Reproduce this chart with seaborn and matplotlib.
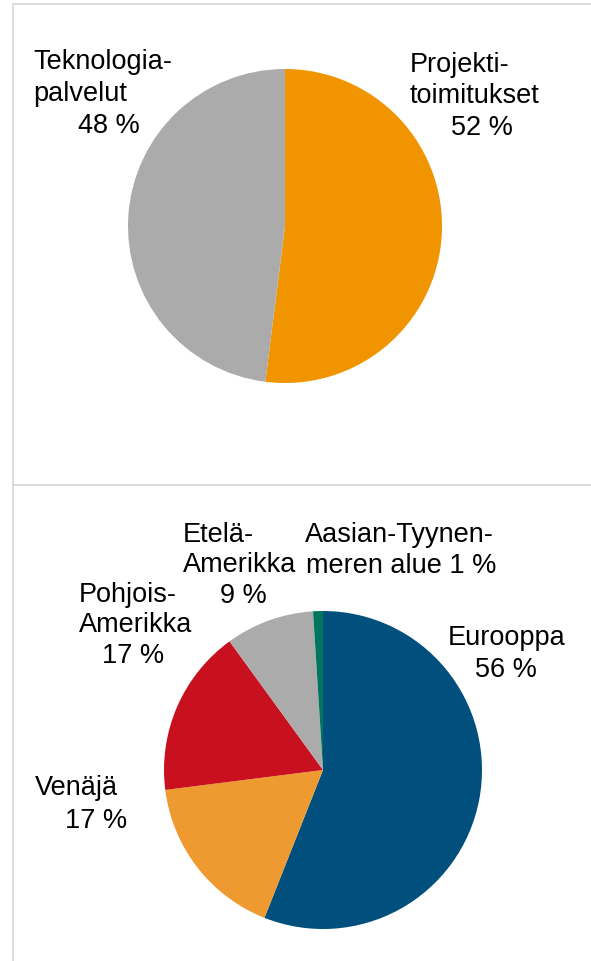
import matplotlib.pyplot as plt
import seaborn as sns
from matplotlib.lines import Line2D

# data
top_labels = ['Projekti-\ntoimitukset', 'Teknologia-\npalvelut']
top_values = [52, 48]
top_colors = ['#F09400', '#ABABAB']

bottom_labels = ['Eurooppa', 'Venäjä', 'Pohjois-\nAmerikka', 'Etelä-\nAmerikka', 'Aasian-Tyynen-\nmeren alue']
bottom_values = [56, 17, 17, 9, 1]
bottom_colors = ['#004F7D', '#EF9A30', '#C8101E', '#ABABAB', '#00765E']

sns.set_theme(style='white')
plt.rcParams['font.family'] = ['Liberation Sans', 'DejaVu Sans']

W, H = 591, 962
fig = plt.figure(figsize=(W / 100, H / 100), dpi=100)
FS = 19.5


def panel(y0, y1, cx, cy, r):
    # axes covering the panel, data units = pie radius
    ax = fig.add_axes([0, 1 - y1 / H, 1, (y1 - y0) / H])
    return ax


def limits(ax, y0, y1, cx, cy, r):
    ax.set_xlim((0 - cx) / r, (W - cx) / r)
    ax.set_ylim((cy - y1) / r, (cy - y0) / r)
    ax.set_axis_off()


def label(ax, c, x, y, s):
    cx, cy, r = c
    ax.text((x - cx) / r, (cy - y) / r, s, ha='left', va='baseline',
            fontsize=FS, color='black')


def block(ax, c, x, y, lines, step=32):
    for i, (dx, s) in enumerate(lines):
        label(ax, c, x + dx, y + i * step, s)


# top pie
ct = (285, 227, 157)
ax1 = panel(0, 486, *ct)
ax1.pie(top_values, colors=top_colors, startangle=90, counterclock=False,
        radius=1, center=(0, 0), frame=True, wedgeprops=dict(linewidth=0))
limits(ax1, 0, 486, *ct)
t1 = top_labels[1].split('\n')
block(ax1, ct, 33, 69, [(0, t1[0]), (0, t1[1]), (45, f'{top_values[1]} %')])
t0 = top_labels[0].split('\n')
block(ax1, ct, 410, 72, [(0, t0[0]), (0, t0[1]), (41, f'{top_values[0]} %')], step=31.5)

# bottom pie
cb = (323, 771, 159)
ax2 = panel(486, 962, *cb)
ax2.pie(bottom_values, colors=bottom_colors, startangle=90, counterclock=False,
        radius=1, center=(0, 0), frame=True, wedgeprops=dict(linewidth=0))
limits(ax2, 486, 962, *cb)
block(ax2, cb, 448, 645, [(0, bottom_labels[0]), (27, f'{bottom_values[0]} %')])
block(ax2, cb, 35, 795, [(0, bottom_labels[1]), (30, f'{bottom_values[1]} %')], step=33)
b2 = bottom_labels[2].split('\n')
block(ax2, cb, 79, 602, [(0, b2[0]), (0, b2[1]), (23, f'{bottom_values[2]} %')], step=30.5)
b3 = bottom_labels[3].split('\n')
block(ax2, cb, 183, 542, [(0, b3[0]), (0, b3[1]), (37, f'{bottom_values[3]} %')], step=30.5)
b4 = bottom_labels[4].split('\n')
block(ax2, cb, 305, 542, [(0, b4[0]), (1, b4[1] + f' {bottom_values[4]} %')], step=31)

# frame lines
grey = '#DADADA'
fig.add_artist(Line2D([13 / W, 1], [1 - 5 / H] * 2, color=grey, lw=1.3))
fig.add_artist(Line2D([13 / W] * 2, [0, 1 - 5 / H], color=grey, lw=1.3))
fig.add_artist(Line2D([13 / W, 1], [1 - 486 / H] * 2, color=grey, lw=1.3))

fig.savefig('out.png', dpi=100)
